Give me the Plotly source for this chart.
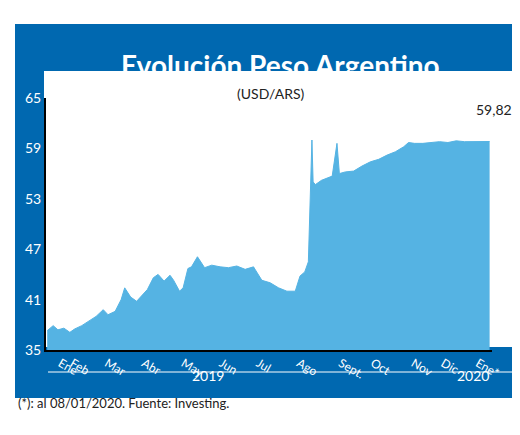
import plotly.graph_objects as go

dates = ["2019-01-02","2019-01-07","2019-01-11","2019-01-16","2019-01-21","2019-01-25","2019-01-31",
         "2019-02-06","2019-02-12","2019-02-18","2019-02-22","2019-02-28","2019-03-05","2019-03-08",
         "2019-03-13","2019-03-18","2019-03-22","2019-03-27","2019-04-01","2019-04-05","2019-04-10",
         "2019-04-15","2019-04-18","2019-04-23","2019-04-26","2019-04-30","2019-05-03","2019-05-08",
         "2019-05-14","2019-05-20","2019-05-27","2019-06-03","2019-06-10","2019-06-17","2019-06-24",
         "2019-07-01","2019-07-08","2019-07-15","2019-07-22","2019-07-29","2019-08-02","2019-08-06",
         "2019-08-09","2019-08-12","2019-08-13","2019-08-15","2019-08-20","2019-08-26","2019-08-29",
         "2019-09-02","2019-09-04","2019-09-09","2019-09-16","2019-09-23","2019-09-30","2019-10-07",
         "2019-10-14","2019-10-21","2019-10-28","2019-11-01","2019-11-06","2019-11-13","2019-11-20",
         "2019-11-27","2019-12-04","2019-12-11","2019-12-18","2019-12-26","2020-01-02","2020-01-08"]
usd_ars = [37.3,37.9,37.4,37.6,37.1,37.5,37.9,
           38.5,39.0,39.8,39.2,39.6,41.0,42.4,
           41.3,40.8,41.4,42.2,43.6,44.0,43.2,
           43.9,43.3,42.0,42.4,44.7,44.9,46.1,
           44.8,45.1,44.9,44.8,45.0,44.6,44.9,
           43.3,43.0,42.4,42.0,42.0,43.8,44.3,
           45.5,60.0,55.0,54.7,55.2,55.5,55.7,
           59.6,56.0,56.2,56.3,56.9,57.4,57.7,
           58.2,58.6,59.2,59.7,59.6,59.6,59.7,
           59.8,59.7,59.9,59.8,59.8,59.8,59.82]
tick_vals = [35, 41, 47, 53, 59, 65]
month_dates = ["2019-01-13","2019-01-23","2019-02-21","2019-03-24","2019-04-26","2019-05-28",
               "2019-06-28","2019-08-01","2019-09-05","2019-10-02","2019-11-05","2019-11-30","2019-12-29"]
month_labels = ["Ene","Feb","Mar","Abr","May","Jun","Jul","Ago","Sept.","Oct","Nov","Dic","Ene*"]
last_label = "59,82"

BLUE = "#0068B0"
FILL = "#55B3E3"
FONT = "Lato"

fig = go.Figure(go.Scatter(x=dates, y=usd_ars, mode="lines", line=dict(color=FILL, width=1),
                           fill="tozeroy", fillcolor=FILL, hoverinfo="skip"))

W, H = 520, 435
L, R, T, B = 38, 36, 90, 93
PW, PH = W - L - R, H - T - B
def px(x): return (x - L) / PW
def py(y): return (H - B - y) / PH

shapes = [
    dict(type="rect", xref="paper", yref="paper", x0=px(7), x1=px(511), y0=py(390), y1=py(16),
         fillcolor=BLUE, line=dict(width=0), layer="below"),
    dict(type="rect", xref="paper", yref="paper", x0=px(36), x1=px(511), y0=py(339), y1=py(63),
         fillcolor="white", line=dict(width=0), layer="below"),
    dict(type="line", xref="paper", yref="paper", x0=px(40), x1=px(458), y0=py(364), y1=py(364),
         line=dict(color="white", width=1)),
    dict(type="line", xref="paper", yref="paper", x0=px(462), x1=px(505), y0=py(364), y1=py(364),
         line=dict(color="white", width=1)),
]
annotations = [
    dict(text="<b>Evolución Peso Argentino</b>", xref="paper", yref="paper", x=px(272), y=py(38),
         showarrow=False, font=dict(family=FONT, size=28, color="white")),
    dict(text="(USD/ARS)", xref="paper", yref="paper", x=px(262), y=py(75),
         showarrow=False, font=dict(family=FONT, size=14, color="#222")),
    dict(text=last_label, x=dates[-1], y=usd_ars[-1], yshift=32, xshift=4, showarrow=False,
         font=dict(family=FONT, size=14, color="#222")),
    dict(text="2019", xref="paper", yref="paper", x=px(200), y=py(378), showarrow=False,
         font=dict(family=FONT, size=14, color="white")),
    dict(text="2020", xref="paper", yref="paper", x=px(483), y=py(378), showarrow=False,
         font=dict(family=FONT, size=14, color="white")),
    dict(text="(*): al 08/01/2020. Fuente: Investing.", xref="paper", yref="paper", x=px(8), y=py(405),
         xanchor="left", showarrow=False, font=dict(family=FONT, size=13, color="#222")),
]

fig.update_layout(
    width=W, height=H, margin=dict(l=L, r=R, t=T, b=B), autosize=False,
    paper_bgcolor="white", plot_bgcolor="rgba(0,0,0,0)", showlegend=False,
    shapes=shapes, annotations=annotations,
    xaxis=dict(range=["2019-01-01", "2020-01-10"], tickvals=month_dates, ticktext=month_labels,
               showgrid=False, showline=True, linecolor="black", linewidth=2, ticks="",
               tickfont=dict(family=FONT, size=12, color="white")),
    yaxis=dict(range=[35, 65], tickvals=tick_vals, showgrid=False, showline=True, zeroline=False,
               linecolor="black", linewidth=2, ticks="",
               tickfont=dict(family=FONT, size=14, color="white")),
)
fig.write_html("out.html")
